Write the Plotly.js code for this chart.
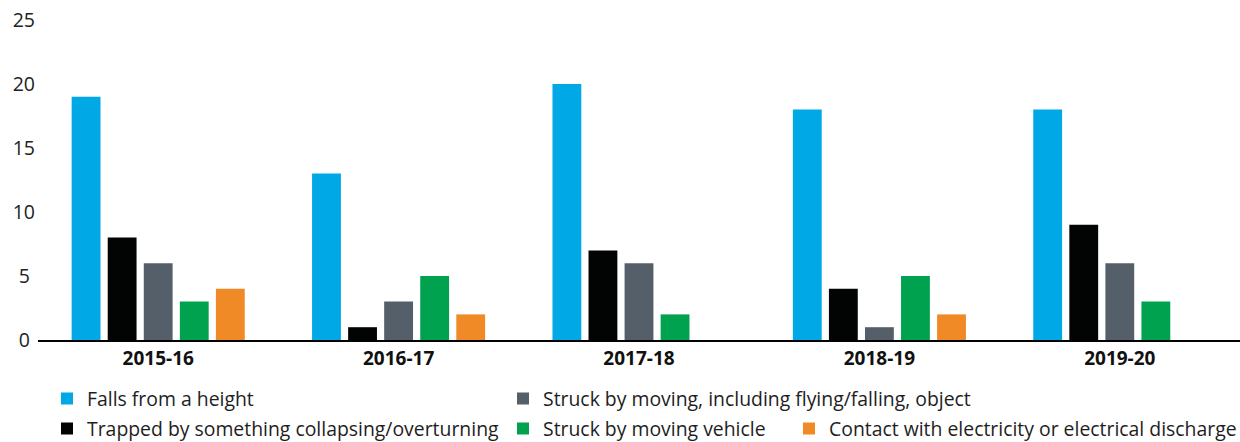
<!DOCTYPE html>
<html>
<head>
<meta charset="utf-8">
<script src="https://cdn.plot.ly/plotly-3.0.1.min.js"></script>
<style>html,body{margin:0;padding:0;background:#fff;}#chart{width:1240px;height:442px;}</style>
</head>
<body>
<div id="chart"></div>
<script>
const categories = ['2015-16', '2016-17', '2017-18', '2018-19', '2019-20'];
const seriesNames = [
  'Falls from a height',
  'Trapped by something collapsing/overturning',
  'Struck by moving, including flying/falling, object',
  'Struck by moving vehicle',
  'Contact with electricity or electrical discharge'
];
const fallsFromHeight = [19, 13, 20, 18, 18];
const trappedCollapsing = [8, 1, 7, 4, 9];
const struckByObject = [6, 3, 6, 1, 6];
const struckByVehicle = [3, 5, 2, 5, 3];
const contactElectricity = [4, 2, 0, 2, 0];
const yTickValues = [0, 5, 10, 15, 20, 25];
const yTickLabels = ['0', '5', '10', '15', '20', '25'];

const seriesValues = [fallsFromHeight, trappedCollapsing, struckByObject, struckByVehicle, contactElectricity];
const colors = ['#00a8e6', '#020403', '#545f6a', '#00a14f', '#f08a26'];
const legendIds = ['legend', 'legend2', 'legend3', 'legend4', 'legend5'];

const traces = seriesValues.map((vals, i) => ({
  type: 'bar',
  name: seriesNames[i],
  x: categories,
  y: vals,
  marker: {color: colors[i], line: {width: 0}},
  legend: legendIds[i],
  hoverinfo: 'x+y+name'
}));

const W = 1240, H = 442;
const m = {l: 38, r: 0, t: 20, b: 102, autoexpand: false};
const pw = W - m.l - m.r, ph = H - m.t - m.b;
const px = v => (v - m.l) / pw;
const py = v => (H - m.b - v) / ph;

const FONT = '"Open Sans", "Noto Sans", sans-serif';
const legendFont = {family: FONT, size: 19.4, color: '#1e1e1e'};
function legendAt(xPix, yPix) {
  return {
    x: px(xPix), y: py(yPix), xanchor: 'left', yanchor: 'middle',
    orientation: 'v', font: legendFont, bgcolor: 'rgba(0,0,0,0)',
    borderwidth: 0, itemclick: false, itemdoubleclick: false
  };
}

// single-digit labels padded so labels appear centred like the original
const padded = yTickLabels.map(s => s.length === 1 ? s + '\u2008' : s);

const layout = {
  width: W, height: H,
  margin: m,
  paper_bgcolor: '#ffffff',
  plot_bgcolor: '#ffffff',
  barmode: 'group',
  bargap: 0.25,
  bargroupgap: 0.2,
  font: {family: FONT, color: '#1e1e1e'},
  xaxis: {
    type: 'category',
    showgrid: false,
    zeroline: false,
    showline: true,
    linecolor: '#000000',
    linewidth: 2,
    ticks: '',
    tickfont: {family: FONT, size: 19, color: '#111111', weight: 'bold'},
    fixedrange: true
  },
  yaxis: {
    range: [0, 25],
    tickvals: yTickValues,
    ticktext: padded,
    showgrid: false,
    zeroline: false,
    showline: false,
    ticks: '',
    ticklabelstandoff: 2,
    tickfont: {family: FONT, size: 19.5, color: '#222222'},
    fixedrange: true
  },
  showlegend: true,
  legend: legendAt(47, 399),
  legend2: legendAt(47, 429),
  legend3: legendAt(503, 399),
  legend4: legendAt(503, 429),
  legend5: legendAt(789, 429)
};

Plotly.newPlot('chart', traces, layout, {displayModeBar: false});
</script>
</body>
</html>
